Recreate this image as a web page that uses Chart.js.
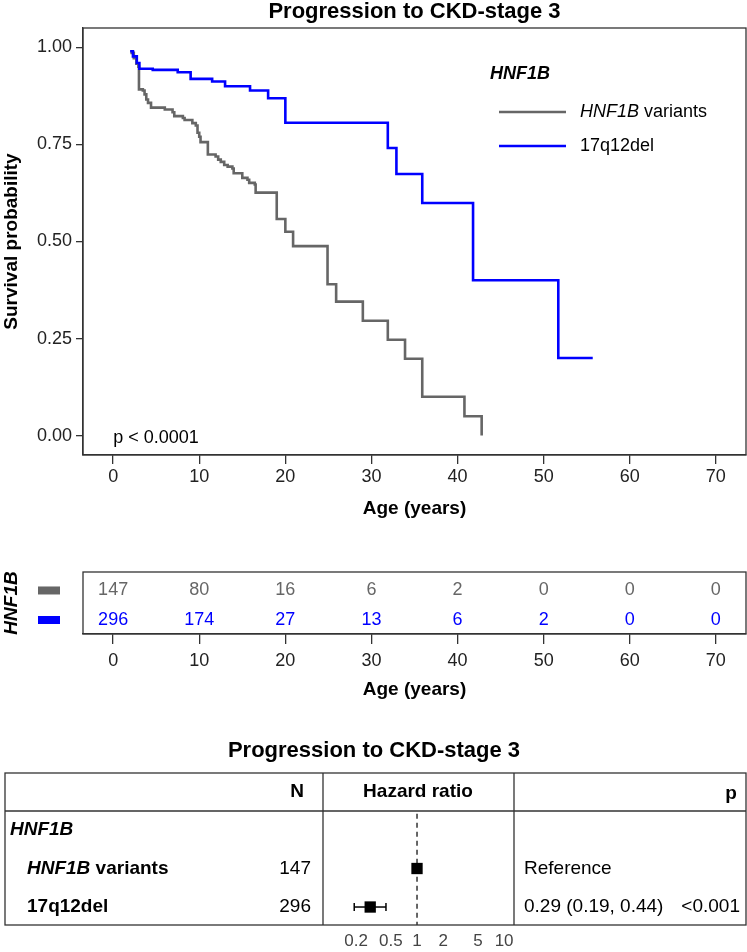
<!DOCTYPE html>
<html><head><meta charset="utf-8">
<script src="https://cdn.jsdelivr.net/npm/chart.js@4"></script>
<style>
html,body{margin:0;padding:0;background:#fff;}
#wrap{position:relative;width:747px;height:952px;overflow:hidden;}
canvas{position:absolute;left:0;}
</style></head>
<body><div id="wrap">
<canvas id="km" width="747" height="525" style="top:0"></canvas>
<canvas id="risk" width="747" height="200" style="top:525px"></canvas>
<canvas id="forest" width="747" height="227" style="top:725px"></canvas>
</div>
<script>
// ---------- data ----------
const chartTitle = 'Progression to CKD-stage 3';
const groupName = 'HNF1B';
const seriesNames = ['HNF1B variants', '17q12del'];
const seriesColors = ['#666666', '#0000FF'];

const ageTicks = [0, 10, 20, 30, 40, 50, 60, 70];
const survTicks = [0, 0.25, 0.5, 0.75, 1];

const variantsAge = [2.0,2.4,2.7,2.93,3.0,3.45,3.65,3.85,4.05,4.4,6.0,6.9,7.1,8.1,8.3,9.2,9.6,9.8,10.0,10.15,11.0,11.9,12.2,12.5,12.9,13.3,13.85,14.0,15.0,15.6,15.8,16.45,16.55,19.0,20.0,20.9,24.9,25.9,29.0,31.9,33.9,35.9,40.8,42.8];
const variantsSurv = [0.986,0.972,0.958,0.950,0.892,0.889,0.879,0.866,0.857,0.845,0.840,0.833,0.823,0.818,0.813,0.805,0.799,0.780,0.770,0.756,0.724,0.719,0.711,0.705,0.697,0.693,0.688,0.676,0.664,0.659,0.651,0.647,0.626,0.558,0.525,0.488,0.390,0.345,0.296,0.247,0.198,0.100,0.050,0.0];

const delAge = [1.97,2.3,2.75,3.05,4.6,7.5,9.0,11.5,13.0,15.9,18.0,20.0,31.9,32.9,35.9,41.8,51.7,55.7];
const delSurv = [0.990,0.977,0.960,0.945,0.942,0.936,0.919,0.912,0.900,0.889,0.869,0.806,0.741,0.674,0.599,0.400,0.200,0.200];

const pValueText = 'p < 0.0001';

const riskVariants = [147, 80, 16, 6, 2, 0, 0, 0];
const riskDel = [296, 174, 27, 13, 6, 2, 0, 0];

const forestN = [147, 296];
const forestHR = [1, 0.29];
const forestLow = [null, 0.19];
const forestHigh = [null, 0.44];
const forestText = ['Reference', '0.29 (0.19, 0.44)'];
const forestP = ['', '<0.001'];
const hrTicks = [0.2, 0.5, 1, 2, 5, 10];

// ---------- styling ----------
const FONT = "'Liberation Sans', Arial, sans-serif";
const AXIS_COL = '#333333';

function fixTicks(list){ return s => { s.ticks = list.map(v => ({value: v})); }; }

function drawMixed(ctx, parts, x, y){
  let cx = x;
  for (const p of parts){ ctx.font = p.font; ctx.fillText(p.text, cx, y); cx += ctx.measureText(p.text).width; }
}

// ---------- KM chart ----------
const kmDecor = {
  id: 'kmDecor',
  afterDraw(chart){
    const {ctx, chartArea: a} = chart;
    ctx.save();
    ctx.strokeStyle = AXIS_COL; ctx.lineWidth = 1.3;
    ctx.strokeRect(a.left, a.top, a.right - a.left, a.bottom - a.top);
    ctx.fillStyle = '#000'; ctx.textBaseline = 'middle';
    ctx.textAlign = 'center'; ctx.font = `bold 22px ${FONT}`;
    ctx.fillText(chartTitle, (a.left + a.right) / 2, 12);
    // legend
    ctx.textAlign = 'left';
    ctx.font = `italic bold 18px ${FONT}`;
    ctx.fillText(groupName, 490, 74);
    const ly = [112, 146];
    for (let i = 0; i < 2; i++){
      ctx.strokeStyle = seriesColors[i]; ctx.lineWidth = 2.5;
      ctx.beginPath(); ctx.moveTo(499, ly[i]); ctx.lineTo(566, ly[i]); ctx.stroke();
    }
    ctx.fillStyle = '#000';
    drawMixed(ctx, [{text: 'HNF1B', font: `italic 18px ${FONT}`}, {text: ' variants', font: `18px ${FONT}`}], 580, ly[0]);
    drawMixed(ctx, [{text: seriesNames[1], font: `18px ${FONT}`}], 580, ly[1]);
    // p value
    ctx.font = `18px ${FONT}`;
    ctx.fillText(pValueText, chart.scales.x.getPixelForValue(0), chart.scales.y.getPixelForValue(-0.005));
    ctx.restore();
  }
};

new Chart(document.getElementById('km'), {
  type: 'line',
  data: {datasets: [
    {label: seriesNames[0], data: variantsAge.map((t, i) => ({x: t, y: variantsSurv[i]})), borderColor: seriesColors[0], borderWidth: 2.6, stepped: 'before', pointRadius: 0, fill: false, order: 2},
    {label: seriesNames[1], data: delAge.map((t, i) => ({x: t, y: delSurv[i]})), borderColor: seriesColors[1], borderWidth: 2.6, stepped: 'before', pointRadius: 0, fill: false, order: 1}
  ]},
  options: {
    responsive: false, animation: false, events: [],
    layout: {padding: {left: 0, right: 1, top: 28, bottom: 0}},
    plugins: {legend: {display: false}, tooltip: {enabled: false}, title: {display: false}},
    scales: {
      x: {type: 'linear', min: -3.5, max: 73.5, afterBuildTicks: fixTicks(ageTicks),
        afterFit: s => { s.height = 70; },
        ticks: {autoSkip: false, maxRotation: 0, color: '#222', font: {family: FONT, size: 18}, padding: 2},
        grid: {drawOnChartArea: false, tickLength: 9, color: AXIS_COL, lineWidth: 1.3},
        border: {display: true, color: AXIS_COL, width: 1.3},
        title: {display: true, text: 'Age (years)', color: '#000', font: {family: FONT, size: 19, weight: 'bold'}, padding: {top: 0, bottom: 5}}
      },
      y: {type: 'linear', min: -0.05, max: 1.05, afterBuildTicks: fixTicks(survTicks),
        afterFit: s => { s.width = 83; },
        ticks: {autoSkip: false, color: '#222', font: {family: FONT, size: 18}, padding: 4, callback: v => v.toFixed(2)},
        grid: {drawOnChartArea: false, tickLength: 7, color: AXIS_COL, lineWidth: 1.3},
        border: {display: true, color: AXIS_COL, width: 1.3},
        title: {display: true, text: 'Survival probability', color: '#000', font: {family: FONT, size: 19, weight: 'bold'}, padding: {top: 0, bottom: 0}}
      }
    }
  },
  plugins: [kmDecor]
});

// ---------- risk table ----------
const riskDecor = {
  id: 'riskDecor',
  afterDraw(chart){
    const {ctx, chartArea: a} = chart;
    ctx.save();
    ctx.strokeStyle = AXIS_COL; ctx.lineWidth = 1.3;
    ctx.strokeRect(a.left, a.top, a.right - a.left, a.bottom - a.top);
    ctx.textAlign = 'center'; ctx.textBaseline = 'middle'; ctx.font = `18px ${FONT}`;
    const vals = [riskVariants, riskDel];
    for (let d = 0; d < 2; d++){
      const meta = chart.getDatasetMeta(d);
      ctx.fillStyle = seriesColors[d];
      meta.data.forEach((pt, i) => ctx.fillText(String(vals[d][i]), pt.x, pt.y));
      const yy = chart.scales.y.getPixelForValue(d + 1);
      ctx.fillRect(38, yy - 4, 22, 8);
    }
    ctx.restore();
  }
};

new Chart(document.getElementById('risk'), {
  type: 'scatter',
  data: {datasets: [
    {data: ageTicks.map(t => ({x: t, y: 1})), pointRadius: 0, showLine: false},
    {data: ageTicks.map(t => ({x: t, y: 2})), pointRadius: 0, showLine: false}
  ]},
  options: {
    responsive: false, animation: false, events: [],
    layout: {padding: {left: 0, right: 1, top: 47, bottom: 0}},
    plugins: {legend: {display: false}, tooltip: {enabled: false}},
    scales: {
      x: {type: 'linear', min: -3.5, max: 73.5, afterBuildTicks: fixTicks(ageTicks),
        afterFit: s => { s.height = 91; },
        ticks: {autoSkip: false, maxRotation: 0, color: '#222', font: {family: FONT, size: 18}, padding: 6},
        grid: {drawOnChartArea: false, tickLength: 10, color: AXIS_COL, lineWidth: 1.3},
        border: {display: true, color: AXIS_COL, width: 1.3},
        title: {display: true, text: 'Age (years)', color: '#000', font: {family: FONT, size: 19, weight: 'bold'}, padding: {top: 0, bottom: 24}}
      },
      y: {type: 'linear', reverse: true, min: 0.374, max: 2.474,
        afterFit: s => { s.width = 83; },
        ticks: {display: false}, grid: {display: false}, border: {display: false},
        title: {display: true, text: groupName, color: '#000', font: {family: FONT, size: 19, weight: 'bold', style: 'italic'}, padding: {top: 0, bottom: 0}}
      }
    }
  },
  plugins: [riskDecor]
});

// ---------- forest plot ----------
const forestDecor = {
  id: 'forestDecor',
  afterDraw(chart){
    const {ctx} = chart;
    const y = chart.scales.y;
    ctx.save();
    ctx.fillStyle = '#000'; ctx.textBaseline = 'middle';
    ctx.textAlign = 'center'; ctx.font = `bold 22px ${FONT}`;
    ctx.fillText(chartTitle, 374, 26);
    // table lines
    ctx.strokeStyle = AXIS_COL; ctx.lineWidth = 1.3;
    ctx.strokeRect(5, 48, 741, 152);
    ctx.beginPath();
    ctx.moveTo(5, 86); ctx.lineTo(746, 86);
    ctx.moveTo(323, 48); ctx.lineTo(323, 200);
    ctx.moveTo(514, 48); ctx.lineTo(514, 200);
    ctx.stroke();
    // header
    ctx.font = `bold 19px ${FONT}`;
    ctx.fillText('N', 297, 67);
    ctx.fillText('Hazard ratio', 418, 67);
    ctx.fillText('p', 731, 69);
    // rows
    ctx.textAlign = 'left';
    ctx.font = `italic bold 19px ${FONT}`;
    ctx.fillText(groupName, 10, y.getPixelForValue(0));
    drawMixed(ctx, [{text: 'HNF1B', font: `italic bold 19px ${FONT}`}, {text: ' variants', font: `bold 19px ${FONT}`}], 27, y.getPixelForValue(1));
    drawMixed(ctx, [{text: seriesNames[1], font: `bold 19px ${FONT}`}], 27, y.getPixelForValue(2));
    ctx.font = `19px ${FONT}`;
    for (let i = 0; i < 2; i++){
      const yy = y.getPixelForValue(i + 1);
      ctx.textAlign = 'right'; ctx.fillText(String(forestN[i]), 311, yy);
      ctx.textAlign = 'left'; ctx.fillText(forestText[i], 524, yy);
      ctx.textAlign = 'right'; ctx.fillText(forestP[i], 740, yy);
    }
    ctx.restore();
  }
};

const ciData = [];
forestHR.forEach((v, i) => { if (forestLow[i] !== null) { ciData.push({x: forestLow[i], y: i + 1}, {x: forestHigh[i], y: i + 1}); } });

new Chart(document.getElementById('forest'), {
  type: 'scatter',
  data: {datasets: [
    {data: [{x: 1, y: -0.42}, {x: 1, y: 2.467}], showLine: true, borderColor: '#000', borderWidth: 1.2, borderDash: [5, 4], pointRadius: 0},
    {data: ciData, showLine: true, borderColor: '#000', borderWidth: 1.5, pointStyle: 'line', rotation: 90, pointRadius: 4, pointBorderColor: '#000', pointBorderWidth: 1.5},
    {data: forestHR.map((v, i) => ({x: v, y: i + 1})), pointStyle: 'rect', pointRadius: 8, pointBackgroundColor: '#000', pointBorderColor: '#000', pointBorderWidth: 0}
  ]},
  options: {
    responsive: false, animation: false, events: [],
    layout: {padding: {left: 323, right: 233, top: 86, bottom: 0}},
    plugins: {legend: {display: false}, tooltip: {enabled: false}},
    scales: {
      x: {type: 'logarithmic', min: 0.0832, max: 13.0, afterBuildTicks: fixTicks(hrTicks),
        afterFit: s => { s.height = 27; },
        ticks: {autoSkip: false, maxRotation: 0, color: '#444', font: {family: FONT, size: 17}, padding: 6, callback: v => String(v)},
        grid: {display: false, drawTicks: false, tickLength: 0}, border: {display: false}
      },
      y: {type: 'linear', display: false, reverse: true, min: -0.4935, max: 2.467}
    }
  },
  plugins: [forestDecor]
});
</script>
</body></html>
